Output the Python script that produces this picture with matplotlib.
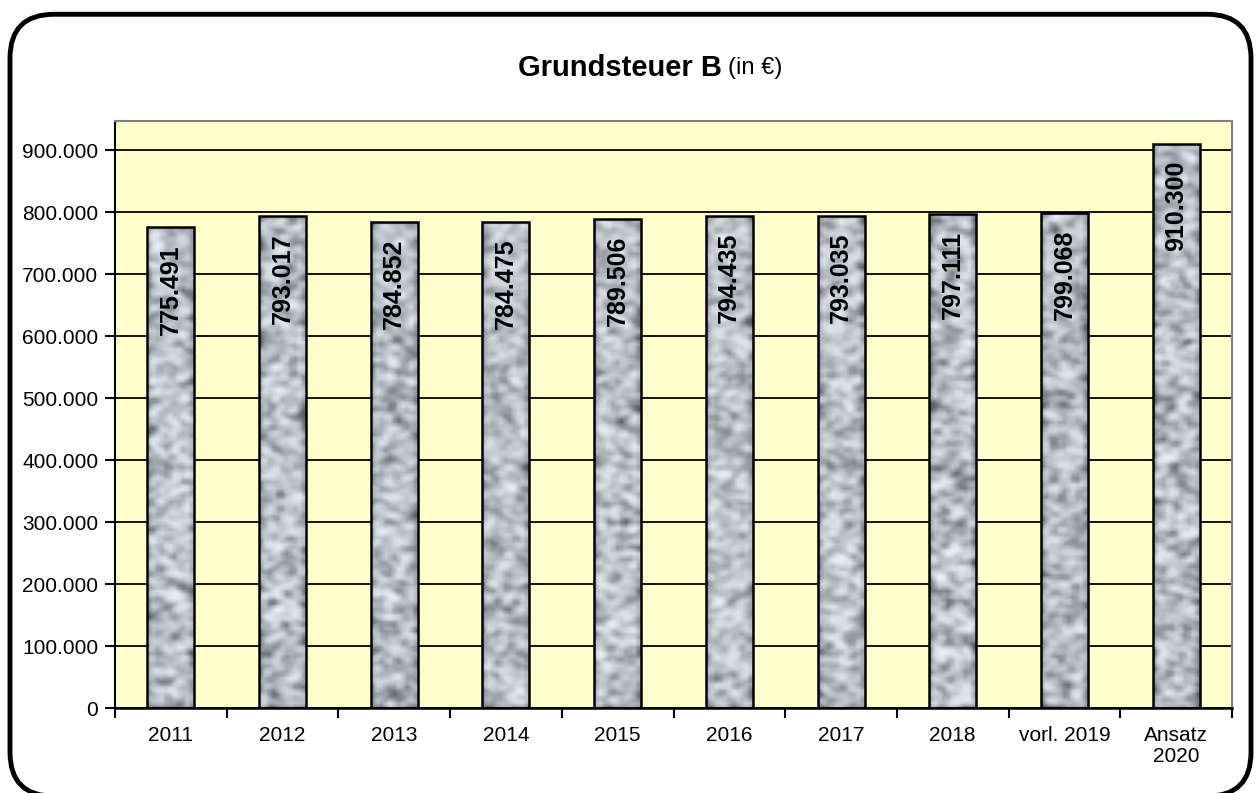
"""
Grundsteuer B (in €) - Balkendiagramm
"""

import numpy as np
import matplotlib.pyplot as plt
from matplotlib.patches import FancyBboxPatch
from matplotlib.colors import LinearSegmentedColormap

plt.rcParams['font.family'] = ['Liberation Sans', 'DejaVu Sans']

# Daten
categories = ['2011', '2012', '2013', '2014', '2015', '2016', '2017', '2018',
              'vorl. 2019', 'Ansatz\n2020']
values = [775491, 793017, 784852, 784475, 789506, 794435, 793035, 797111,
          799068, 910300]
value_labels = ['775.491', '793.017', '784.852', '784.475', '789.506', '794.435',
                '793.035', '797.111', '799.068', '910.300']
yticks = [0, 100000, 200000, 300000, 400000, 500000, 600000, 700000, 800000, 900000]
ytick_labels = ['0', '100.000', '200.000', '300.000', '400.000', '500.000',
                '600.000', '700.000', '800.000', '900.000']

granite_cmap = LinearSegmentedColormap.from_list(
    'granite', ['#55585f', '#8c9098', '#b6bac3', '#d6dae2', '#eef0f5'])


def granite(h, w, seed):
    """graue Granit-Textur fuer die Balken (nur Optik)"""
    rng = np.random.default_rng(seed)
    img = rng.random((h, w))
    k = np.array([0.25, 0.5, 0.25])
    img = np.apply_along_axis(lambda r: np.convolve(r, k, mode='same'), 0, img)
    img = np.apply_along_axis(lambda r: np.convolve(r, k, mode='same'), 1, img)
    img = (img - img.min()) / (img.max() - img.min())
    return img


fig = plt.figure(figsize=(12.58, 7.93), dpi=100)

# abgerundeter Rahmen
frame = FancyBboxPatch((10 / 1258, -0.004), 1241 / 1258, 0.986,
                       boxstyle='round,pad=0,rounding_size=0.035',
                       transform=fig.transFigure, fill=False,
                       edgecolor='black', linewidth=3.5, mutation_aspect=1.58)
fig.patches.append(frame)

ax = fig.add_axes([115 / 1258, 1 - 708 / 793, (1232 - 115) / 1258, (708 - 121) / 793])
ax.set_facecolor('#FFFFCC')

x = np.arange(len(categories))

ax.set_yticks(yticks)
ax.set_yticklabels(ytick_labels, fontsize=15)
ax.grid(True, axis='y', color='black', linewidth=1.3, zorder=0)
ax.set_axisbelow(True)

width = 0.42
bars = ax.bar(x, values, width=width, color='none', edgecolor='black',
              linewidth=1.8, zorder=3)

for i, (b, v) in enumerate(zip(bars, values)):
    tex = granite(int(v / 5000), 11, seed=i + 1)
    im = ax.imshow(tex, cmap=granite_cmap, vmin=0, vmax=1, interpolation='bilinear',
                   extent=(b.get_x(), b.get_x() + b.get_width(), 0, v),
                   aspect='auto', zorder=2)
    im.set_clip_path(b)
    ax.annotate(value_labels[i], xy=(x[i], v), xytext=(0, -12),
                textcoords='offset points', rotation=90, ha='center', va='top',
                fontsize=18, fontweight='bold', zorder=4)

ax.set_aspect('auto')
ax.set_xlim(-0.5, len(categories) - 0.5)
ax.set_ylim(0, 947000)

# Kategorie-Ticks zwischen den Balken
ax.set_xticks(np.arange(-0.5, len(categories), 1.0))
ax.set_xticklabels([])
ax.set_xticks(x, minor=True)
ax.set_xticklabels(categories, minor=True, fontsize=15, linespacing=1.15)
ax.tick_params(axis='x', which='minor', length=0, pad=13)
ax.tick_params(axis='x', which='major', length=7, width=1.5, direction='out')
ax.tick_params(axis='y', length=7, width=1.5, direction='out', pad=5)

ax.spines['left'].set_linewidth(1.5)
ax.spines['bottom'].set_linewidth(1.8)
for s in ['top', 'right']:
    ax.spines[s].set_color('#808080')
    ax.spines[s].set_linewidth(1.5)

# Titel
fig.text(722 / 1258, 1 - 68 / 793, 'Grundsteuer B', ha='right', va='center',
         fontsize=21, fontweight='bold')
fig.text(728 / 1258, 1 - 68 / 793, '(in €)', ha='left', va='center', fontsize=17)

fig.savefig('out.png', dpi=100)
